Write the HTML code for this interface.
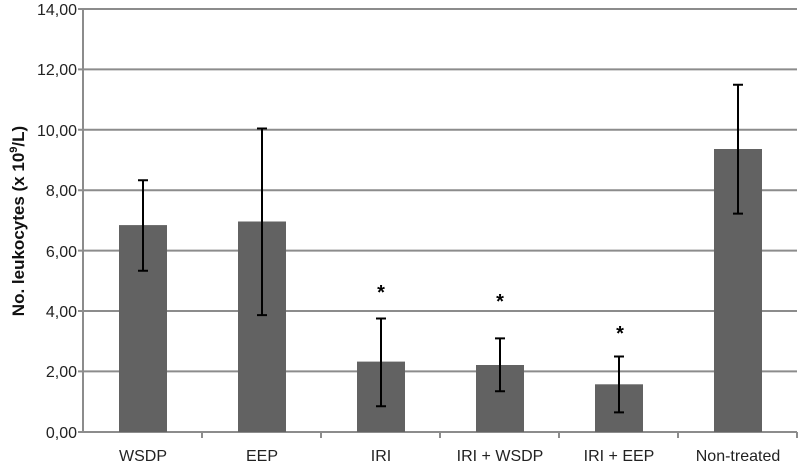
<!DOCTYPE html>
<html><head><meta charset="utf-8"><style>body{margin:0;background:#fff}</style></head>
<body>
<svg width="800" height="465" xmlns="http://www.w3.org/2000/svg" font-family="Liberation Sans, sans-serif">
<rect width="800" height="465" fill="#fff"/>
<g stroke="#8c8c8c" stroke-width="2">
<line x1="78" x2="797" y1="9" y2="9"/><line x1="78" x2="797" y1="69.4" y2="69.4"/>
<line x1="78" x2="797" y1="129.8" y2="129.8"/><line x1="78" x2="797" y1="190.2" y2="190.2"/>
<line x1="78" x2="797" y1="250.6" y2="250.6"/><line x1="78" x2="797" y1="311" y2="311"/>
<line x1="78" x2="797" y1="371.4" y2="371.4"/><line x1="78" x2="797" y1="432" y2="432"/>
<line x1="83" x2="83" y1="9" y2="432"/>
<line x1="202" x2="202" y1="432" y2="438"/><line x1="321" x2="321" y1="432" y2="438"/>
<line x1="440" x2="440" y1="432" y2="438"/><line x1="559" x2="559" y1="432" y2="438"/>
<line x1="678" x2="678" y1="432" y2="438"/><line x1="797" x2="797" y1="432" y2="438"/>
</g>
<g fill="#626262">
<rect x="119" y="225.1" width="48" height="206.9"/>
<rect x="238" y="221.5" width="48" height="210.5"/>
<rect x="357" y="361.6" width="48" height="70.4"/>
<rect x="476" y="365" width="48" height="67"/>
<rect x="595" y="384.3" width="48" height="47.7"/>
<rect x="714" y="149" width="48" height="283"/>
</g>
<g stroke="#000" stroke-width="2">
<path d="M143 180.3V270.7M138 180.3H148M138 270.7H148"/>
<path d="M262 128.5V315.1M257 128.5H267M257 315.1H267"/>
<path d="M381 318.5V406.3M376 318.5H386M376 406.3H386"/>
<path d="M500 338.4V391.2M495 338.4H505M495 391.2H505"/>
<path d="M619 356.5V412.4M614 356.5H624M614 412.4H624"/>
<path d="M738 84.7V213.6M733 84.7H743M733 213.6H743"/>
</g>
<g font-size="20" font-weight="bold" text-anchor="middle" fill="#000">
<text x="381" y="299">*</text><text x="500" y="308">*</text><text x="620" y="340">*</text>
</g>
<g font-size="16" fill="#222" text-anchor="end">
<text x="77" y="15">14,00</text><text x="77" y="75">12,00</text><text x="77" y="136">10,00</text>
<text x="77" y="196">8,00</text><text x="77" y="257">6,00</text><text x="77" y="317">4,00</text>
<text x="77" y="377">2,00</text><text x="77" y="438">0,00</text>
</g>
<g font-size="16" fill="#222" text-anchor="middle">
<text x="143" y="461">WSDP</text><text x="262" y="461">EEP</text><text x="381" y="461">IRI</text>
<text x="500" y="461">IRI + WSDP</text><text x="619" y="461">IRI + EEP</text><text x="738" y="461">Non-treated</text>
</g>
<text transform="translate(24,221) rotate(-90)" font-size="17" font-weight="bold" text-anchor="middle" fill="#111">No. leukocytes (x 10<tspan font-size="11" dy="-7">9</tspan><tspan dy="7">/L)</tspan></text>
</svg>
</body></html>
